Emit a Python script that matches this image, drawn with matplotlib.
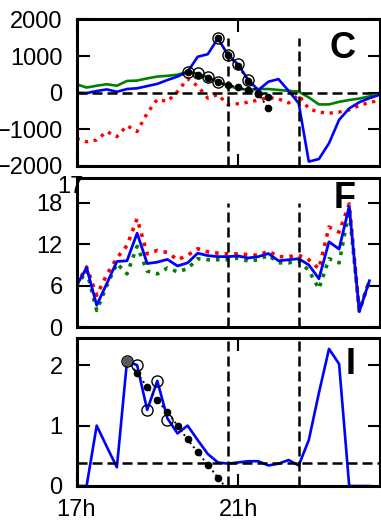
import numpy as np
import matplotlib
matplotlib.use('Agg')
import matplotlib.pyplot as plt

plt.rcParams['font.family'] = ['Liberation Sans', 'DejaVu Sans']

# 15 min samples from 17:00
t = 17 + 0.25 * np.arange(31)

# panel C
blue_c = [0, -10, 45, 90, 25, 100, 120, 180, 240, 345, 440, 570, 980, 1050, 1480, 1030,
          770, 350, 70, 300, 370, 50, -290, -1880, -1810, -1380, -740, -430, -260, -150, -60]
green_c = [230, 140, 190, 230, 190, 320, 330, 390, 440, 460, 490, 570, 520, 420, 300, 190,
           110, 80, 100, 100, 75, 50, 30, -130, -320, -320, -250, -200, -160, -100, -40]
red_c = [-1250, -1340, -1290, -1060, -1200, -900, -1060, -560, -180, -240, 30, 380, 180, -150,
         -50, -330, -300, -260, -200, -130, -170, -280, -60, -440, -530, -560, -530, -470,
         -350, -270, -210]
fit_c1 = [570, 480, 400, 290, 210, 150, 60, 0, -110]      # from 19:30
circ_c1 = [570, 540, 420, 300]
fit_c2 = [1480, 1040, 720, 330, -30, -430]                # from 20:15
circ_c2 = [1480, 1020, 770, 340]

# panel F
blue_f = [6.0, 8.6, 3.15, 6.3, 9.5, 9.6, 13.6, 9.2, 9.4, 9.8, 8.85, 9.3, 10.7, 10.35, 10.2,
          10.2, 10.3, 10.0, 10.2, 10.65, 9.6, 9.75, 9.9, 9.0, 7.0, 12.35, 11.3, 17.5, 2.25, 6.7]
red_f = [6.1, 8.7, 4.6, 7.6, 10.0, 11.8, 15.7, 10.6, 11.1, 10.8, 9.75, 10.4, 11.35, 10.9, 10.7,
         10.6, 10.6, 10.5, 10.4, 11.0, 10.2, 10.2, 10.4, 9.75, 8.45, 14.5, 13.75, 17.85, 2.4, 6.75]
green_f = [5.8, 8.2, 2.4, 6.0, 9.2, 7.7, 11.7, 8.1, 7.7, 8.55, 8.0, 8.45, 9.9, 9.75, 9.75,
           9.75, 10.0, 9.55, 9.75, 10.4, 9.3, 9.3, 9.55, 8.2, 5.55, 9.9, 9.3, 16.9, 2.3, 6.7]

# panel I
blue_i = [0, 0, 1.0, 0.65, 0.31, 2.07, 2.0, 1.26, 1.74, 1.12, 0.87, 1.0, 0.76, 0.53, 0.39,
          0.37, 0.39, 0.41, 0.41, 0.34, 0.37, 0.43, 0.34, 0.76, 1.54, 2.27, 2.02, 0, 0, 0]
fit_i = [2.07, 1.87, 1.64, 1.42, 1.22, 1.0, 0.77, 0.56, 0.35, 0.14, -0.07]   # from 18:15
circ_i = [2.07, 2.0, 1.26, 1.74, 1.1]

events = [20.75, 22.5]

fig = plt.figure(figsize=(3.81, 5.21), dpi=100)
L, W = 76.5 / 381, 303 / 381
axC = fig.add_axes([L, (521 - 166) / 521, W, 147 / 521])
axF = fig.add_axes([L, (521 - 327) / 521, W, 149 / 521])
axI = fig.add_axes([L, (521 - 486) / 521, W, 148 / 521])

dash = (0, (4, 2))
for ax in (axC, axF, axI):
    ax.set_xlim(17.0, 24.5)
    for s in ax.spines.values():
        s.set_linewidth(2.2)
    ax.tick_params(direction='in', length=9, width=1.5, labelsize=17, pad=10,
                   top=True, right=True)

# C
axC.plot(t, green_c, color='green', lw=1.9)
axC.plot(t, red_c, color='red', ls=':', lw=2.4)
axC.plot(t, blue_c, color='blue', lw=1.9)
axC.plot(t[11:20], fit_c1, 'k:', lw=1.4, marker='o', ms=4.5)
axC.plot(t[14:20], fit_c2, 'k:', lw=1.4, marker='o', ms=4.5)
axC.plot(t[11:15], circ_c1, 'o', mfc='none', mec='k', ms=8, mew=1)
axC.plot(t[14:18], circ_c2, 'o', mfc='none', mec='k', ms=8, mew=1)
axC.axhline(0, color='k', ls=dash, lw=1.8)
axC.vlines(events, -2000, 1500, colors='k', linestyles=dash, lw=1.8)
axC.set_ylim(-2000, 2010)
axC.set_yticks([-2000, -1000, 0, 1000, 2000])
axC.set_xticks([17, 21])
axC.set_xticklabels([])
axC.text(0.92, 0.80, 'C', transform=axC.transAxes, ha='right', va='center',
         fontsize=26, fontweight='bold')

# F
axF.plot(t[:30], red_f, color='red', ls=':', lw=2.6)
axF.plot(t[:30], green_f, color='green', ls=':', lw=2.6)
axF.plot(t[:30], blue_f, color='blue', lw=2.0)
axF.vlines(events, 0, 18, colors='k', linestyles=dash, lw=1.8)
axF.set_ylim(0, 21.6)
axF.set_yticks([0, 6, 12, 18])
axF.set_xticks([])
axF.text(0.92, 0.86, 'F', transform=axF.transAxes, ha='right', va='center',
         fontsize=26, fontweight='bold')
fig.text(57 / 381, 1 - 187 / 521, '17', fontsize=17, va='center', ha='left')

# I
axI.plot(t[:30], blue_i, color='blue', lw=1.9)
axI.plot(t[5:16], fit_i, 'k:', lw=1.4, marker='o', ms=4.5, markevery=range(10))
axI.plot(t[5:10], circ_i, 'o', mfc='none', mec='k', ms=8, mew=1)
axI.plot(t[5], fit_i[0], 'o', color='0.35', ms=6)
axI.axhline(0.375, color='k', ls=dash, lw=1.8)
axI.vlines(events, 0, 2.5, colors='k', linestyles=dash, lw=1.8)
axI.set_ylim(0, 2.45)
axI.set_yticks([0, 1, 2])
axI.set_xticks([17, 21])
axI.set_xticklabels(['17h', '21h'])
axI.tick_params(axis='x', pad=9)
axI.text(0.92, 0.82, 'I', transform=axI.transAxes, ha='right', va='center',
         fontsize=26, fontweight='bold')

fig.savefig('out.png', dpi=100, facecolor='white')
